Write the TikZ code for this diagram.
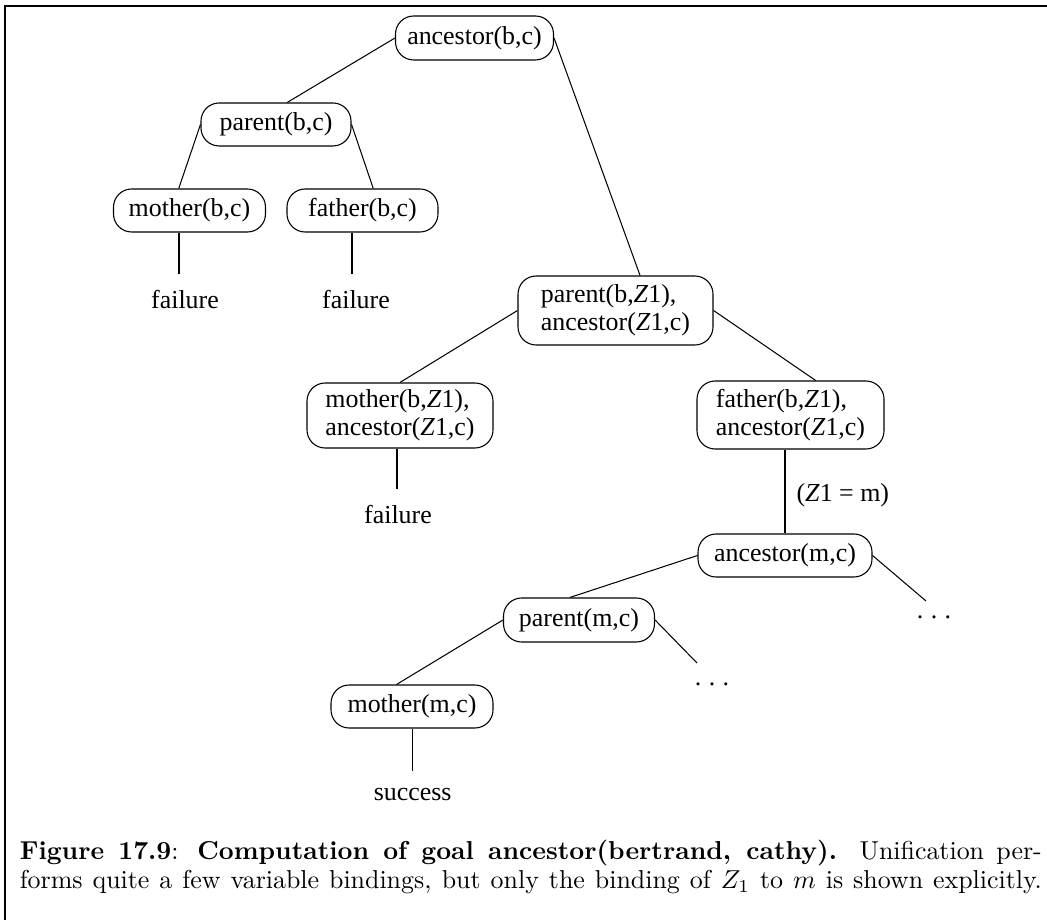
\documentclass[tikz,border=0pt]{standalone}
\usepackage{fontspec}
\newfontfamily\treefont{Liberation Serif}
\begin{document}
\begin{tikzpicture}[x=0.386pt,y=-0.386pt,
  goal/.style={draw, line width=0.42pt, rounded corners=7pt, inner sep=0pt, align=left, font=\treefont\fontsize{10}{11}\selectfont},
  leaf/.style={inner xsep=0pt, inner ysep=6.3pt, anchor=base, font=\treefont\fontsize{10}{12}\selectfont},
  conn/.style={line width=0.4pt},
  frameline/.style={line width=0.9pt}]
\useasboundingbox (0,0) rectangle (1047,920);
\draw[frameline] (5,920) -- (5,6) -- (1047,6);

\node[goal, minimum width=60.99pt, minimum height=16.98pt] (anc1) at (474.5,38) {ancestor(b,c)};
\node[goal, minimum width=57.9pt, minimum height=16.6pt] (par1) at (276,124.5) {parent(b,c)};
\node[goal, minimum width=58.67pt, minimum height=16.6pt] (mot1) at (189.5,210.5) {mother(b,c)};
\node[goal, minimum width=58.29pt, minimum height=16.6pt] (fat1) at (362.5,210.5) {father(b,c)};
\node[leaf] (fail1) at (185,309) {failure};
\node[leaf] (fail2) at (356,309) {failure};
\node[goal, minimum width=75.27pt, minimum height=26.63pt] (pz) at (615.5,310.5) {parent(b,\textit{Z}1),\\ancestor(\textit{Z}1,c)};
\node[goal, minimum width=71.8pt, minimum height=25.09pt] (mz) at (400,415.5) {mother(b,\textit{Z}1),\\ancestor(\textit{Z}1,c)};
\node[goal, minimum width=72.18pt, minimum height=26.25pt] (fz) at (790.5,415) {father(b,\textit{Z}1),\\ancestor(\textit{Z}1,c)};
\node[leaf] (fail3) at (398,524) {failure};
\node[goal, minimum width=67.16pt, minimum height=16.6pt] (ancm) at (785,555.5) {ancestor(m,c)};
\node[leaf, anchor=base west, inner sep=0pt] (bind) at (796,502) {(\textit{Z}1 = m)};
\node[goal, minimum width=58.29pt, minimum height=16.98pt] (parm) at (579,620) {parent(m,c)};
\node[goal, minimum width=62.53pt, minimum height=16.6pt] (motm) at (412,706.5) {mother(m,c)};
\node[leaf] (succ) at (412.7,800) {success};
\node[leaf] (dots1) at (934,618) {.\kern2.9pt.\kern2.9pt.};
\node[leaf] (dots2) at (712,685) {.\kern2.9pt.\kern2.9pt.};
\coordinate (e1) at (926,601);
\coordinate (e2) at (697,663);

\draw[conn] (anc1.west) -- (par1.63);
\draw[conn] (par1.west) -- (mot1.116);
\draw[conn] (par1.east) -- (fat1.64);
\draw[conn] (anc1.east) -- (pz.55);
\draw[conn] (pz.west) -- (mz.north);
\draw[conn] (pz.east) -- (fz.54);
\draw[conn] (ancm.north |- fz.south) -- (ancm.north);
\draw[conn] (ancm.west) -- (parm.112);
\draw[conn] (ancm.east) -- (e1);
\draw[conn] (parm.west) -- (motm.125);
\draw[conn] (parm.east) -- (e2);
\path (mot1.south) ++(-10.5,0) coordinate (m1s);
\draw[conn] (m1s) -- (m1s |- fail1.north);
\path (fat1.south) ++(-10.5,0) coordinate (f1s);
\draw[conn] (f1s) -- (f1s |- fail2.north);
\path (mz.south) ++(-3,0) coordinate (mzs);
\draw[conn] (mzs) -- (mzs |- fail3.north);
\draw[conn] (succ.north |- motm.south) -- (succ.north);

\node[anchor=base west, inner sep=0pt] (cap) at (19.3,859) {\parbox[t]{394.5pt}{\fontsize{10}{11.4}\selectfont\makebox[394.5pt][s]{\textbf{Figure 17.9}: \textbf{Computation of goal ancestor(bertrand, cathy).} Unification per-}\\\makebox[394.5pt][s]{forms quite a few variable bindings, but only the binding of $Z_1$ to $m$ is shown explicitly.}}};
\end{tikzpicture}
\end{document}
